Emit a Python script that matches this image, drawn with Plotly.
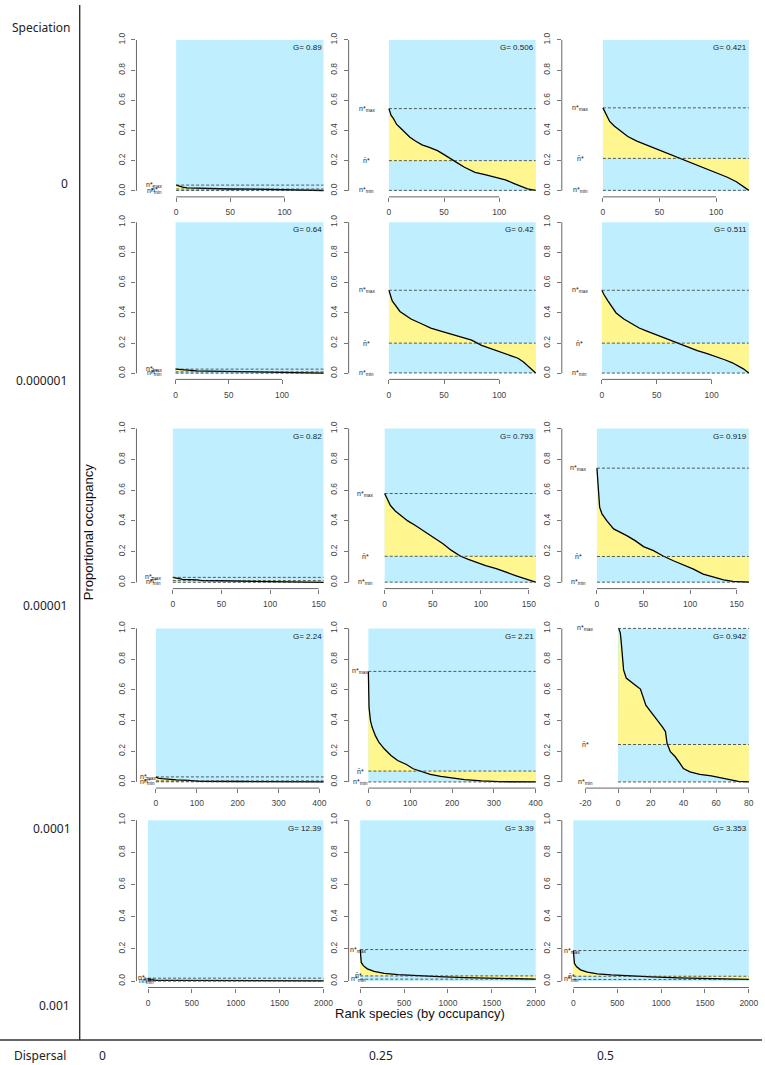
import plotly.graph_objects as go

W, H = 765, 1065

# ---------------- data ----------------
speciation_labels = ["0", "0.000001", "0.00001", "0.0001", "0.001"]
dispersal_labels = ["0", "0.25", "0.5"]

G_values = [["0.89", "0.506", "0.421"],
            ["0.64", "0.42", "0.511"],
            ["0.82", "0.793", "0.919"],
            ["2.24", "2.21", "0.942"],
            ["12.39", "3.39", "3.353"]]
n_species = [[136, 133, 129],
             [139, 133, 134],
             [155, 157, 163],
             [410, 400, 80],
             [2000, 2000, 2000]]
n_max = [[0.038, 0.545, 0.55],
         [0.028, 0.55, 0.55],
         [0.033, 0.578, 0.743],
         [0.033, 0.72, 1.0],
         [0.018, 0.196, 0.19]]
n_mean = [[0.012, 0.2, 0.215],
          [0.010, 0.2, 0.2],
          [0.012, 0.17, 0.169],
          [0.007, 0.071, 0.244],
          [0.003, 0.032, 0.03]]
n_min = [[0.002, 0.003, 0.003],
         [0.001, 0.003, 0.002],
         [0.001, 0.002, 0.002],
         [0.001, 0.0, 0.0],
         [0.0, 0.012, 0.01]]
x_ticks = [[[0, 50, 100]] * 3,
           [[0, 50, 100]] * 3,
           [[0, 50, 100, 150]] * 3,
           [[0, 100, 200, 300, 400], [0, 100, 200, 300, 400], [-20, 0, 20, 40, 60, 80]],
           [[0, 500, 1000, 1500, 2000]] * 3]
y_ticks = [0, 0.2, 0.4, 0.6, 0.8, 1.0]
y_ticktext = ["0.0", "0.2", "0.4", "0.6", "0.8", "1.0"]

rank_r1c1 = [0, 3, 6, 10, 20, 30, 50, 70, 90, 100, 115, 136]
occ_r1c1 = [0.038, 0.03, 0.025, 0.02, 0.017, 0.014, 0.012, 0.011, 0.009, 0.006, 0.004, 0.002]
rank_r1c2 = [0, 2, 4, 7, 10, 14.5, 19, 24, 30, 36, 44, 50, 56, 59, 62, 68.5, 78, 87, 96, 105.6, 113, 119.4, 125.6, 133]
occ_r1c2 = [0.545, 0.50, 0.48, 0.44, 0.42, 0.39, 0.355, 0.33, 0.305, 0.29, 0.266, 0.24, 0.215, 0.2, 0.185, 0.156, 0.123, 0.108, 0.09, 0.073, 0.05, 0.029, 0.013, 0.003]
rank_r1c3 = [0, 3, 6, 10, 15, 22, 30, 40, 50, 60, 70, 80, 90, 100, 110, 118, 124, 129]
occ_r1c3 = [0.55, 0.50, 0.46, 0.43, 0.40, 0.36, 0.33, 0.30, 0.27, 0.24, 0.215, 0.18, 0.15, 0.12, 0.09, 0.06, 0.03, 0.003]
rank_r2c1 = [0, 5, 10, 20, 30, 50, 70, 90, 100, 120, 139]
occ_r2c1 = [0.028, 0.025, 0.02, 0.017, 0.015, 0.013, 0.012, 0.01, 0.006, 0.003, 0.001]
rank_r2c2 = [0, 3, 10, 20, 29, 38, 47, 56, 66, 75, 84, 94, 103, 110, 117, 122, 126, 130, 133]
occ_r2c2 = [0.55, 0.48, 0.41, 0.36, 0.33, 0.30, 0.28, 0.26, 0.24, 0.22, 0.185, 0.16, 0.14, 0.12, 0.10, 0.075, 0.05, 0.025, 0.003]
rank_r2c3 = [0, 2, 5.5, 9, 13, 20, 27, 34, 41, 50, 59, 68, 78, 87, 96, 105, 112, 119, 124, 129, 134]
occ_r2c3 = [0.55, 0.52, 0.48, 0.44, 0.40, 0.36, 0.33, 0.30, 0.28, 0.255, 0.23, 0.20, 0.175, 0.15, 0.13, 0.11, 0.09, 0.07, 0.05, 0.03, 0.002]
rank_r3c1 = [0, 5, 10, 25, 30, 50, 75, 95, 100, 120, 155]
occ_r3c1 = [0.033, 0.027, 0.02, 0.017, 0.012, 0.011, 0.01, 0.009, 0.006, 0.004, 0.001]
rank_r3c2 = [0, 3, 6, 11, 17, 24, 32, 42, 53, 61, 69, 79, 87, 95, 105, 116, 126, 136, 144, 152, 157]
occ_r3c2 = [0.578, 0.54, 0.50, 0.465, 0.435, 0.40, 0.37, 0.33, 0.286, 0.25, 0.21, 0.17, 0.15, 0.13, 0.11, 0.09, 0.07, 0.045, 0.028, 0.013, 0.002]
rank_r3c3 = [0, 1.8, 2.9, 5.4, 10.7, 17.9, 23, 32, 41, 50, 60.7, 71, 82, 93, 103.6, 114, 125, 136, 146, 155, 163]
occ_r3c3 = [0.743, 0.576, 0.489, 0.446, 0.40, 0.348, 0.333, 0.304, 0.272, 0.233, 0.207, 0.172, 0.141, 0.115, 0.087, 0.054, 0.033, 0.017, 0.0065, 0.003, 0.002]
rank_r4c1 = [0, 5, 15, 30, 50, 80, 100, 110, 200, 300, 410]
occ_r4c1 = [0.033, 0.025, 0.022, 0.018, 0.014, 0.01, 0.007, 0.004, 0.003, 0.002, 0.001]
rank_r4c2 = [0, 1.6, 5, 9, 17, 25, 38, 54, 70, 91, 107, 128, 148, 173, 197, 230, 271, 312, 400]
occ_r4c2 = [0.72, 0.486, 0.40, 0.356, 0.30, 0.26, 0.216, 0.173, 0.14, 0.114, 0.086, 0.065, 0.05, 0.037, 0.028, 0.015, 0.0065, 0.002, 0.0]
rank_r4c3 = [0.4, 1.4, 2, 2.6, 3.4, 5, 8, 11, 13.7, 15.1, 17, 20, 24, 27, 29, 30, 32, 35, 38, 40, 44, 50, 57, 62.5, 68.5, 73.6, 80]
occ_r4c3 = [1.0, 0.97, 0.906, 0.797, 0.73, 0.677, 0.65, 0.627, 0.605, 0.557, 0.50, 0.458, 0.404, 0.36, 0.328, 0.25, 0.197, 0.164, 0.12, 0.087, 0.066, 0.05, 0.039, 0.028, 0.015, 0.004, 0.0]
rank_r5c1 = [0, 10, 30, 60, 100, 200, 500, 1000, 1500, 2000]
occ_r5c1 = [0.018, 0.012, 0.009, 0.007, 0.005, 0.004, 0.003, 0.002, 0.0015, 0.001]
rank_r5c2 = [0, 4, 12, 35, 81, 158, 274, 429, 622, 892, 1200, 1587, 2000]
occ_r5c2 = [0.196, 0.156, 0.116, 0.096, 0.076, 0.06, 0.048, 0.04, 0.034, 0.028, 0.022, 0.016, 0.012]
rank_r5c3 = [0, 4, 12, 35, 81, 158, 274, 429, 622, 892, 1200, 1587, 2000]
occ_r5c3 = [0.19, 0.14, 0.11, 0.09, 0.07, 0.055, 0.045, 0.038, 0.032, 0.026, 0.02, 0.015, 0.01]

ranks = [[rank_r1c1, rank_r1c2, rank_r1c3],
         [rank_r2c1, rank_r2c2, rank_r2c3],
         [rank_r3c1, rank_r3c2, rank_r3c3],
         [rank_r4c1, rank_r4c2, rank_r4c3],
         [rank_r5c1, rank_r5c2, rank_r5c3]]
occs = [[occ_r1c1, occ_r1c2, occ_r1c3],
        [occ_r2c1, occ_r2c2, occ_r2c3],
        [occ_r3c1, occ_r3c2, occ_r3c3],
        [occ_r4c1, occ_r4c2, occ_r4c3],
        [occ_r5c1, occ_r5c2, occ_r5c3]]

# ---------------- layout geometry (pixels) ----------------
row_y1 = [39, 221.5, 428, 628, 820]      # pixel of occupancy 1.0
row_y0 = [190, 372.7, 582, 781.7, 981]   # pixel of occupancy 0.0
col_L = [137, 350, 564]
col_w = 195
lim0 = [-30, -30, -30, -30, -50]
label_x = -20

BLUE = "#BFEFFF"
YELLOW = "#FFF68F"
AX = "#555555"
TICKFONT = dict(family="Liberation Sans, Arial, sans-serif", size=8.5, color="#444444")
SMALL = dict(family="Liberation Sans, Arial, sans-serif", size=7, color="#222222")
OUTER = dict(family="Noto Sans, Open Sans, sans-serif", size=12, color="#222222")

fig = go.Figure()
shapes = []
annotations = []
layout_axes = {}

for r in range(5):
    for c in range(3):
        k = r * 3 + c + 1
        xa = "x" if k == 1 else f"x{k}"
        ya = "y" if k == 1 else f"y{k}"
        N = n_species[r][c]
        lo = lim0[r]
        pad = 0.04 * (N - lo)
        span = row_y0[r] - row_y1[r]
        top = row_y1[r] - 0.04 * span
        bot = row_y0[r] + 0.04 * span
        ticks = x_ticks[r][c]

        layout_axes["xaxis" if k == 1 else f"xaxis{k}"] = dict(
            domain=[col_L[c] / W, (col_L[c] + col_w) / W], range=[lo - pad, N + pad],
            anchor=ya, tickvals=ticks, ticktext=[str(t) for t in ticks],
            ticks="outside", ticklen=4, tickcolor=AX, tickwidth=0.8,
            showline=False, showgrid=False, zeroline=False, tickfont=TICKFONT,
            ticklabelstandoff=3, fixedrange=True)
        layout_axes["yaxis" if k == 1 else f"yaxis{k}"] = dict(
            domain=[1 - bot / H, 1 - top / H], range=[-0.04, 1.04], anchor=xa,
            tickvals=y_ticks, ticktext=y_ticktext, tickangle=-90,
            ticks="outside", ticklen=4, tickcolor=AX, tickwidth=0.8,
            showline=False, showgrid=False, zeroline=False, tickfont=TICKFONT,
            ticklabelstandoff=3, fixedrange=True)

        common = dict(xaxis=xa, yaxis=ya, showlegend=False, hoverinfo="skip")
        # blue background
        fig.add_trace(go.Scatter(x=[0, N, N, 0, 0], y=[0, 0, 1, 1, 0], mode="lines",
                                 fill="toself", fillcolor=BLUE, line=dict(width=0), **common))
        # mean line (base for the yellow fill)
        fig.add_trace(go.Scatter(x=[0, N], y=[n_mean[r][c]] * 2, mode="lines",
                                 line=dict(width=0, color="rgba(0,0,0,0)"), **common))
        # curve with yellow fill to the mean
        fig.add_trace(go.Scatter(x=ranks[r][c], y=occs[r][c], mode="lines", fill="tonexty",
                                 fillcolor=YELLOW, line=dict(color="black", width=1.3), **common))
        # dashed reference lines
        fig.add_trace(go.Scatter(
            x=[0, N, None, 0, N, None, 0, N],
            y=[n_max[r][c]] * 2 + [None] + [n_mean[r][c]] * 2 + [None] + [n_min[r][c]] * 2,
            mode="lines", line=dict(color="#333333", width=0.8, dash="3px,2px"), **common))

        # axis lines (R style: from first to last tick)
        shapes.append(dict(type="line", xref=xa, yref=f"{ya} domain", x0=ticks[0], x1=ticks[-1],
                           y0=0, y1=0, line=dict(color=AX, width=0.9)))
        shapes.append(dict(type="line", xref=f"{xa} domain", yref=ya, x0=0, x1=0,
                           y0=y_ticks[0], y1=y_ticks[-1], line=dict(color=AX, width=0.9)))

        # labels
        for txt, val in (("n*<sub>max</sub>", n_max[r][c]), ("n\u0304*", n_mean[r][c]),
                         ("n*<sub>min</sub>", n_min[r][c])):
            annotations.append(dict(x=label_x, y=val, xref=xa, yref=ya, text=txt, showarrow=False,
                                    xanchor="center", yanchor="middle", font=SMALL))
        annotations.append(dict(x=N, y=0.95, xref=xa, yref=ya, text="G= " + G_values[r][c],
                                showarrow=False, xanchor="right", yanchor="middle",
                                font=dict(family="Liberation Sans, Arial, sans-serif", size=8, color="#222222")))

# outer frame lines
shapes.append(dict(type="line", xref="paper", yref="paper", x0=80 / W, x1=80 / W,
                   y0=1 - 4 / H, y1=1 - 1040 / H, line=dict(color="#333333", width=1.4)))
shapes.append(dict(type="line", xref="paper", yref="paper", x0=0, x1=1,
                   y0=1 - 1040 / H, y1=1 - 1040 / H, line=dict(color="#333333", width=1.4)))

def paper_text(txt, px, py, font, angle=0):
    annotations.append(dict(x=px / W, y=1 - py / H, xref="paper", yref="paper", text=txt,
                            showarrow=False, xanchor="center", yanchor="middle", font=font,
                            textangle=angle))

paper_text("Speciation", 41, 27, OUTER)
row_label_x = [65, 42, 45, 52, 55]
row_label_y = [183, 380, 605, 828, 1005]
for lab, lx, ly in zip(speciation_labels, row_label_x, row_label_y):
    paper_text(lab, lx, ly, OUTER)
paper_text("Dispersal", 40, 1055, OUTER)
for lab, lx in zip(dispersal_labels, [103, 382, 608]):
    paper_text(lab, lx, 1055, OUTER)
paper_text("Rank species (by occupancy)", 422, 1013,
           dict(family="Liberation Sans, Arial, sans-serif", size=13, color="#111111"))
paper_text("Proportional occupancy", 89, 532,
           dict(family="Liberation Sans, Arial, sans-serif", size=13, color="#111111"), angle=-90)

fig.update_layout(width=W, height=H, autosize=False, margin=dict(l=0, r=0, t=0, b=0),
                  paper_bgcolor="white", plot_bgcolor="white", shapes=shapes,
                  annotations=annotations, **layout_axes)

fig.write_html("out.html", config={"displayModeBar": False, "staticPlot": True},
               post_script="document.body.style.margin='0px';document.body.style.overflow='hidden';")
